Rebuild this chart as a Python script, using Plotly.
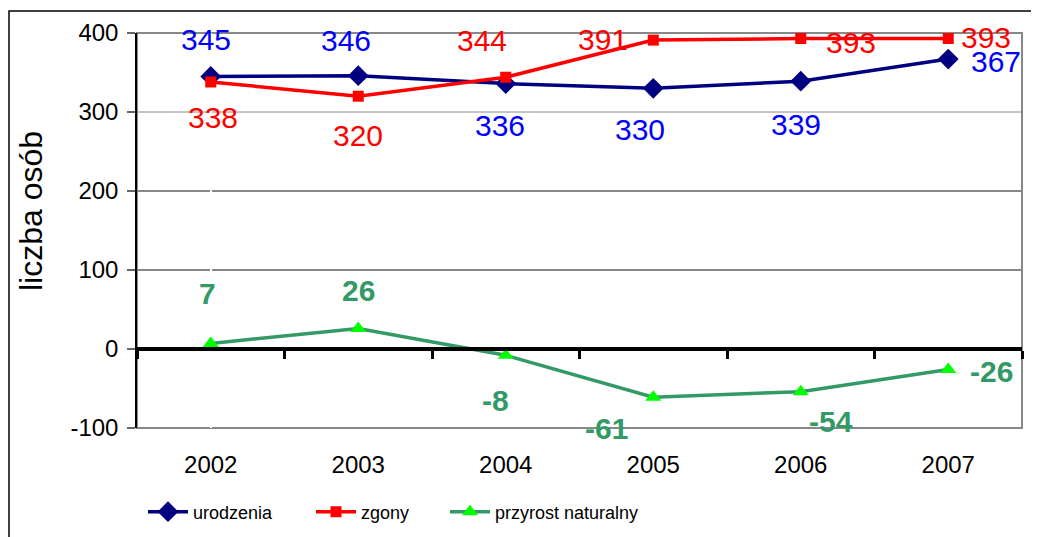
import plotly.graph_objects as go

# Data
YEARS = ["2002", "2003", "2004", "2005", "2006", "2007"]
URODZENIA = [345, 346, 336, 330, 339, 367]
ZGONY = [338, 320, 344, 391, 393, 393]
PRZYROST = [7, 26, -8, -61, -54, -26]
Y_TICKS = [-100, 0, 100, 200, 300, 400]

# label offsets (px) per point, mimicking Excel's manual data-label placement
OFF_URODZENIA = [(-5, 37), (-12, 35), (-6, -42), (-13, -41), (-5, -43), (48, -2)]
OFF_ZGONY = [(2, -36), (0, -39), (-24, 37), (-50, 1), (50, -4), (38, 1)]
OFF_PRZYROST = [(-3, 50), (0, 38), (-10, -45), (-47, -31), (30, -30), (43, -2)]

FONT = "Liberation Sans, Arial, sans-serif"

COLOR_URO_LINE = "#000080"
COLOR_URO_TEXT = "#0000FF"
COLOR_ZGONY = "#FF0000"
COLOR_PRZ_LINE = "#339966"
COLOR_PRZ_MARK = "#00FF00"

# plot area in page pixels; the page body adds an 8px margin around the figure
BODY = 8
L, R, T, B = 137, 1022, 33, 428
W_PAGE, H_PAGE = 1039, 537


def px_x(x):
    return (x - L) / (R - L)


def px_y(y):
    return (B - y) / (B - T)


fig = go.Figure()

fig.add_trace(go.Scatter(
    x=YEARS, y=URODZENIA, mode="lines+markers", name="urodzenia",
    line=dict(color=COLOR_URO_LINE, width=3.5),
    marker=dict(symbol="diamond", size=16, color=COLOR_URO_LINE),
    legend="legend",
))
fig.add_trace(go.Scatter(
    x=YEARS, y=ZGONY, mode="lines+markers", name="zgony",
    line=dict(color=COLOR_ZGONY, width=3.5),
    marker=dict(symbol="square", size=11, color=COLOR_ZGONY),
    legend="legend2",
))
fig.add_trace(go.Scatter(
    x=YEARS, y=PRZYROST, mode="lines+markers", name="przyrost naturalny",
    line=dict(color=COLOR_PRZ_LINE, width=3.5),
    marker=dict(symbol="triangle-up", size=14, color=COLOR_PRZ_MARK),
    legend="legend3",
))

# data labels (category positions given as indices)
for vals, offs, color, bold in [
    (URODZENIA, OFF_URODZENIA, COLOR_URO_TEXT, False),
    (ZGONY, OFF_ZGONY, COLOR_ZGONY, False),
    (PRZYROST, OFF_PRZYROST, COLOR_PRZ_LINE, True),
]:
    for i, (v, (dx, dy)) in enumerate(zip(vals, offs)):
        txt = f"<b>{v}</b>" if bold else str(v)
        fig.add_annotation(
            x=i, y=v, text=txt, showarrow=False,
            xshift=dx, yshift=dy,
            font=dict(family=FONT, size=30, color=color),
        )

# y-axis title placed where Excel put it (not centred on the plot area)
fig.add_annotation(
    xref="paper", yref="paper", x=px_x(31), y=px_y(211),
    text="liczba osób", textangle=-90, showarrow=False,
    xanchor="center", yanchor="middle",
    font=dict(family=FONT, size=32, color="black"),
)

# gridlines (Excel rendered the lower ones darker)
for t in Y_TICKS[2:]:
    fig.add_hline(y=t, line_width=1, layer="below",
                  line_color="#888888" if t >= 300 else "#111111")

# grey plot-area frame, then outer chart border
fig.add_shape(type="rect", xref="paper", yref="paper", x0=0, x1=1, y0=0, y1=1,
              line=dict(color="#888888", width=2), layer="below")
fig.add_shape(type="rect", xref="paper", yref="paper",
              x0=px_x(9), x1=px_x(W_PAGE + 20), y0=px_y(H_PAGE + 20), y1=px_y(11),
              line=dict(color="black", width=1.5))

legend_style = dict(
    orientation="h", y=px_y(512), xanchor="left", yanchor="middle",
    font=dict(family=FONT, size=18, color="black"),
    itemwidth=40, bgcolor="rgba(0,0,0,0)",
)

fig.update_layout(
    width=W_PAGE - BODY, height=H_PAGE - BODY,
    paper_bgcolor="white", plot_bgcolor="white",
    margin=dict(l=L - BODY, r=W_PAGE - R, t=T - BODY, b=H_PAGE - B, autoexpand=False),
    font=dict(family=FONT, size=24, color="black"),
    showlegend=True,
    legend=dict(legend_style, x=px_x(148 - 5)),
    legend2=dict(legend_style, x=px_x(316 - 5)),
    legend3=dict(legend_style, x=px_x(450 - 5)),
    xaxis=dict(
        type="category", range=[-0.5, len(YEARS) - 0.5],
        showgrid=False, showline=False, ticks="",
        tickfont=dict(size=24), ticklabelstandoff=20,
    ),
    # axis line at y=0 carrying the category boundary ticks
    xaxis2=dict(
        overlaying="x", anchor="free",
        position=(0 - Y_TICKS[0]) / (Y_TICKS[-1] - Y_TICKS[0]),
        range=[-0.5, len(YEARS) - 0.5],
        tickmode="array", tickvals=[i - 0.5 for i in range(len(YEARS) + 1)],
        showticklabels=False, showgrid=False,
        showline=True, linecolor="black", linewidth=3.5,
        ticks="outside", ticklen=8, tickwidth=3, tickcolor="black",
    ),
    yaxis=dict(
        range=[Y_TICKS[0], Y_TICKS[-1]],
        tickvals=Y_TICKS, ticktext=[str(t) for t in Y_TICKS],
        showgrid=False, zeroline=False,
        showline=True, linecolor="black", linewidth=1.5,
        ticks="outside", ticklen=8, tickcolor="#666666", tickwidth=1.5,
        tickfont=dict(size=24), ticklabelstandoff=4,
    ),
)

# dummy trace so xaxis2 gets drawn
fig.add_trace(go.Scatter(x=[0], y=[None], xaxis="x2", showlegend=False,
                         hoverinfo="skip", mode="lines"))

fig.write_html("out.html")
